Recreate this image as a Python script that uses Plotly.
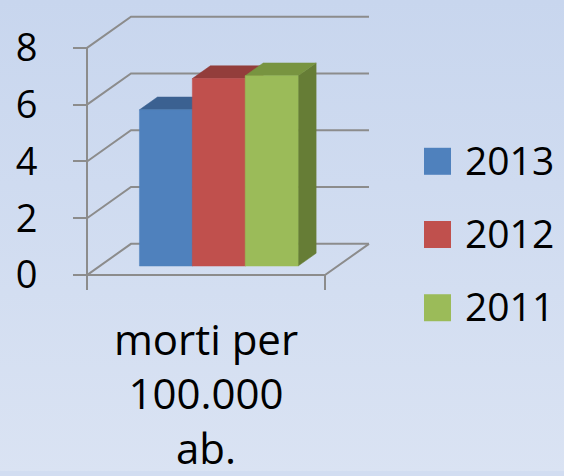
import plotly.graph_objects as go

# ---------------- data ----------------
categories = ["morti per<br>100.000<br>ab."]
series_names = ["2013", "2012", "2011"]
values_2013 = [5.5]
values_2012 = [6.6]
values_2011 = [6.7]
y_tick_values = [0, 2, 4, 6, 8]
y_tick_labels = ["0", "2", "4", "6", "8"]

series_values = [values_2013, values_2012, values_2011]
front_colors = ["#4F81BD", "#C0504D", "#9BBB59"]
top_colors = ["#3B6191", "#933D3B", "#789440"]
side_colors = ["#395E8C", "#8C3A38", "#667D36"]

# ---------------- geometry ----------------
FIG_W, FIG_H = 564, 476
S = 28.7              # px per value unit
CAT_W = 238           # x-units (px) per category
DEPTH_X = 44          # oblique depth offset (px)
DEPTH_Y = 1.1         # oblique depth offset (value units)
GAP = 1.5             # gap width relative to bar width
D0, D1 = 0.29, 0.70   # bar depth span (fraction of depth)
TICK_PX = 15
GRID = "#8C8C8C"
FONT = "Open Sans"

# main plot pixel frame
ORIGIN_X, ORIGIN_Y = 87, 278
DOM_X = (80, 376)
DOM_Y = (8, 300)  # top, bottom pixel

x_range = [DOM_X[0] - ORIGIN_X, DOM_X[1] - ORIGIN_X]
y_range = [-(DOM_Y[1] - ORIGIN_Y) / S, (ORIGIN_Y - DOM_Y[0]) / S]

fig = go.Figure()

# ---------------- background gradient (full-paper axis) ----------------
fig.add_trace(go.Scatter(
    x=[0, FIG_W, FIG_W, 0, 0], y=[0, 0, FIG_H, FIG_H, 0],
    mode="lines", line=dict(width=0), fill="toself",
    fillgradient=dict(type="vertical", start=0, stop=FIG_H,
                      colorscale=[[0, "#C8D6EE"], [1, "#DAE3F3"]]),
    hoverinfo="skip", showlegend=False, xaxis="x", yaxis="y"))

# ---------------- walls / gridlines ----------------
n_cat = len(categories)
floor_w = CAT_W * n_cat
back_right = floor_w + DEPTH_X
gx, gy = [], []
for v in y_tick_values:
    gx += [0, DEPTH_X, back_right, None]
    gy += [v, v + DEPTH_Y, v + DEPTH_Y, None]
# floor front and right edge
gx += [0, floor_w, back_right, None]
gy += [0, 0, DEPTH_Y, None]
# front vertical axis line (extends down as the first category tick)
tick_u = TICK_PX / S
gx += [0, 0, None]
gy += [max(y_tick_values), -tick_u, None]
# category boundary ticks
for c in range(1, n_cat + 1):
    gx += [c * CAT_W, c * CAT_W, None]
    gy += [0, -tick_u, None]
fig.add_trace(go.Scatter(x=gx, y=gy, mode="lines",
                         line=dict(color=GRID, width=2),
                         hoverinfo="skip", showlegend=False,
                         xaxis="x2", yaxis="y2"))

# ---------------- 3D bars ----------------
n_ser = len(series_names)
bw = CAT_W / (n_ser + GAP)
for ci in range(n_cat):
    start = ci * CAT_W + (CAT_W - n_ser * bw) / 2
    for si in range(n_ser):
        v = series_values[si][ci]
        xl = start + si * bw
        xr = xl + bw
        ax0, ay0 = D0 * DEPTH_X, D0 * DEPTH_Y
        ax1, ay1 = D1 * DEPTH_X, D1 * DEPTH_Y
        # side face
        fig.add_trace(go.Scatter(
            x=[xr + ax0, xr + ax0, xr + ax1, xr + ax1, xr + ax0],
            y=[ay0, v + ay0, v + ay1, ay1, ay0],
            mode="lines", fill="toself", fillcolor=side_colors[si],
            line=dict(color=side_colors[si], width=0.5),
            hoverinfo="skip", showlegend=False, xaxis="x2", yaxis="y2"))
        # top face
        fig.add_trace(go.Scatter(
            x=[xl + ax0, xr + ax0, xr + ax1, xl + ax1, xl + ax0],
            y=[v + ay0, v + ay0, v + ay1, v + ay1, v + ay0],
            mode="lines", fill="toself", fillcolor=top_colors[si],
            line=dict(color=top_colors[si], width=0.5),
            hoverinfo="skip", showlegend=False, xaxis="x2", yaxis="y2"))
        # front face
        fig.add_trace(go.Scatter(
            x=[xl + ax0, xr + ax0, xr + ax0, xl + ax0, xl + ax0],
            y=[ay0, ay0, v + ay0, v + ay0, ay0],
            mode="lines", fill="toself", fillcolor=front_colors[si],
            line=dict(color=front_colors[si], width=0.5),
            name=series_names[si], text=series_names[si],
            hoverinfo="text", showlegend=False, xaxis="x2", yaxis="y2"))

# ---------------- legend (drawn manually for large swatches) ----------------
LEG_X, LEG_Y0, LEG_DY, SW = 437.5, 163, 74, 27
leg_y = [LEG_Y0 + i * LEG_DY for i in range(n_ser)]
fig.add_trace(go.Scatter(
    x=[LEG_X] * n_ser, y=leg_y, mode="markers",
    marker=dict(symbol="square", size=SW, color=front_colors, line=dict(width=0)),
    hoverinfo="skip", showlegend=False, xaxis="x", yaxis="y"))
annotations = []
for i, name in enumerate(series_names):
    annotations.append(dict(x=LEG_X + 25, y=leg_y[i] - 2, xref="x", yref="y",
                            text=name, showarrow=False, xanchor="left",
                            yanchor="middle",
                            font=dict(family=FONT, size=39, color="black")))

fig.update_layout(
    width=FIG_W, height=FIG_H,
    margin=dict(l=0, r=0, t=0, b=0),
    paper_bgcolor="#D2DDF1", plot_bgcolor="rgba(0,0,0,0)",
    showlegend=False, hovermode="closest",
    annotations=annotations,
    xaxis=dict(domain=[0, 1], range=[0, FIG_W], visible=False, fixedrange=True),
    yaxis=dict(domain=[0, 1], range=[FIG_H, 0], visible=False, fixedrange=True),
    xaxis2=dict(domain=[DOM_X[0] / FIG_W, DOM_X[1] / FIG_W], range=x_range,
                anchor="y2", showgrid=False, zeroline=False, showline=False,
                tickmode="array",
                tickvals=[ci * CAT_W + CAT_W / 2 for ci in range(n_cat)],
                ticktext=categories, ticks="", ticklabelstandoff=15,
                tickfont=dict(family=FONT, size=42, color="black")),
    yaxis2=dict(domain=[1 - DOM_Y[1] / FIG_H, 1 - DOM_Y[0] / FIG_H], range=y_range,
                anchor="free", position=ORIGIN_X / FIG_W,
                showgrid=False, zeroline=False, showline=False,
                tickmode="array", tickvals=y_tick_values, ticktext=y_tick_labels,
                ticks="outside", ticklen=14, tickwidth=2, tickcolor=GRID,
                ticklabelstandoff=28,
                tickfont=dict(family=FONT, size=38, color="black")),
)

fig.write_html(
    "out.html",
    config={"displayModeBar": False},
    post_script="document.body.style.margin='0';"
                "document.body.style.overflow='hidden';"
                "document.body.style.background='#D2DDF1';",
)
